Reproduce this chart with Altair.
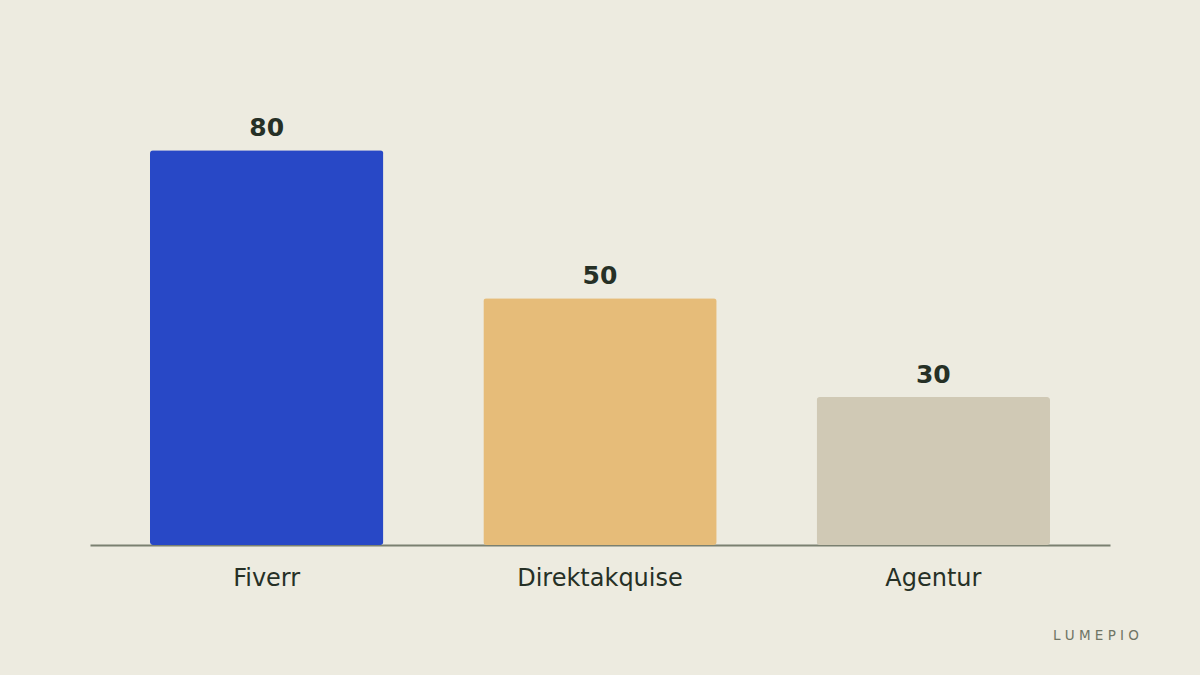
import altair as alt
import pandas as pd

# data
categories = ['Fiverr', 'Direktakquise', 'Agentur']
values = [80, 50, 30]
colors = ['#2848C6', '#E6BC79', '#D0C9B5']

df = pd.DataFrame({'kanal': categories, 'wert': values, 'farbe': colors})

ink = '#263026'
bg = '#EDEBE0'

x_enc = alt.X('kanal:N', sort=categories, title=None,
              scale=alt.Scale(paddingInner=0.3, paddingOuter=0.18),
              axis=alt.Axis(labelAngle=0, labelFontSize=24, labelColor=ink,
                            labelPadding=21, ticks=False, domainColor='#7A8070',
                            domainWidth=2, labelFont='DejaVu Sans'))
y_enc = alt.Y('wert:Q', scale=alt.Scale(domain=[0, 90]), axis=None)

bars = alt.Chart(df).mark_bar(cornerRadius=3).encode(
    x=x_enc,
    y=y_enc,
    color=alt.Color('farbe:N', scale=None),
)

labels = alt.Chart(df).mark_text(
    dy=-9, baseline='bottom', fontSize=25, fontWeight='bold',
    color=ink, font='DejaVu Sans'
).encode(
    x=alt.X('kanal:N', sort=categories),
    y='wert:Q',
    text='wert:Q',
)

# watermark
mark = alt.Chart(pd.DataFrame({'t': ['L U M E P I O']})).mark_text(
    align='right', baseline='middle', fontSize=13.5, color='#6F7565',
    font='DejaVu Sans'
).encode(x=alt.value(1049), y=alt.value(535), text='t:N')

chart = alt.layer(bars, labels, mark).properties(
    width=1020, height=444,
    background=bg,
    padding={'left': 82, 'top': 93, 'right': 82, 'bottom': 122},
    autosize=alt.AutoSizeParams(type='none'),
).configure_view(stroke=None)

chart.save('out.html', embed_options={'renderer': 'svg', 'actions': False})

# page background same as chart so the 8px margin blends in
with open('out.html', 'r', encoding='utf-8') as f:
    html = f.read()
html = html.replace('<body>', '<body style="background:%s">' % bg, 1)
with open('out.html', 'w', encoding='utf-8') as f:
    f.write(html)
